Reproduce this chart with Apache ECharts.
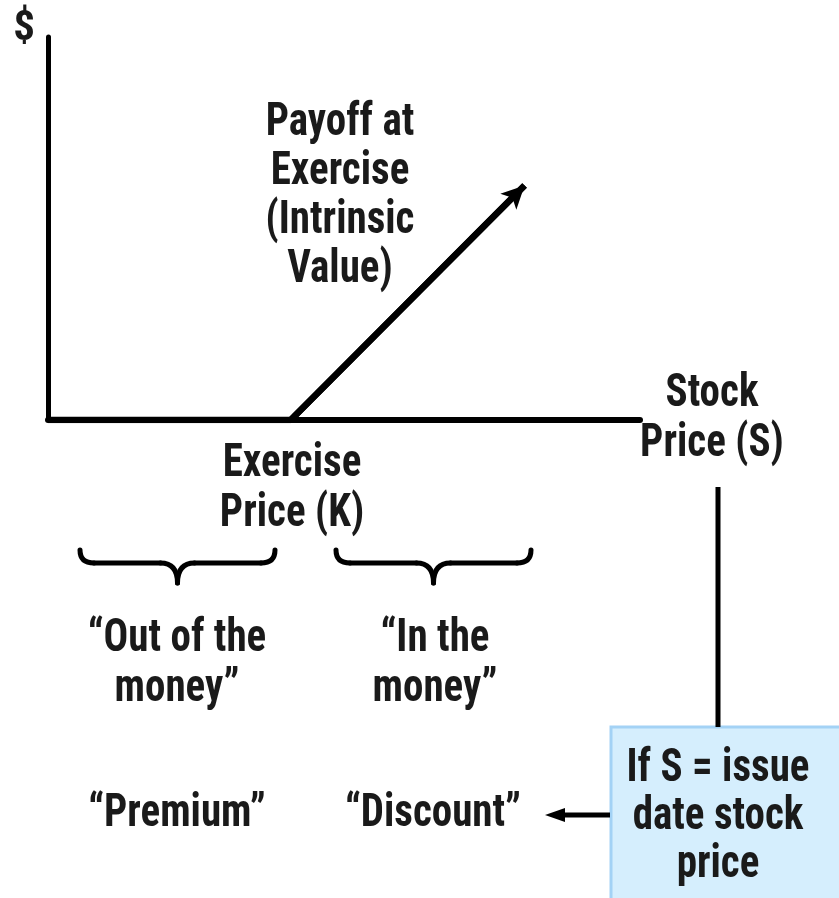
<!DOCTYPE html>
<html>
<head>
<meta charset="utf-8">
<script src="https://cdn.jsdelivr.net/npm/echarts@6/dist/echarts.min.js"></script>
<style>
html,body{margin:0;padding:0;background:#fff;}
#chart{width:839px;height:898px;}
</style>
</head>
<body>
<div id="chart"></div>
<script>
// Data (conceptual units): stock price S vs payoff at exercise
var stockPrice = [0, 41, 80.5];
var payoff = [0, 0, 39.8];
var xMax = 100, yMax = 65;

var FONT = '"Liberation Sans Narrow", "Arial Narrow", "Roboto Condensed", "Liberation Sans", sans-serif';
var TXT = '#1a1a1a';
var SY = 1.12;

var chart = echarts.init(document.getElementById('chart'), null, {renderer: 'canvas'});

function txt(text, x, y, lh) {
  lh = lh || 49;
  return {type: 'text', x: x, y: y, scaleY: SY, z: 100, style: {
    text: text, x: 0, y: 0,
    align: 'center', verticalAlign: 'middle',
    fontFamily: FONT, fontWeight: 'bold', fontSize: 41, lineHeight: lh / SY,
    fill: TXT
  }};
}

var BS = {stroke: '#000', lineWidth: 5, lineCap: 'round', fill: null};
function brace(x0, x1, yTop, yMid, yTip) {
  var cx = (x0 + x1) / 2;
  var r = 14, r2 = 17;
  return {type: 'group', children: [
    {type: 'bezierCurve', shape: {x1: x0, y1: yTop, cpx1: x0, cpy1: yMid, x2: x0 + r, y2: yMid}, style: BS, z: 50},
    {type: 'line', shape: {x1: x0 + r, y1: yMid, x2: cx - r2, y2: yMid}, style: BS, z: 50},
    {type: 'bezierCurve', shape: {x1: cx - r2, y1: yMid, cpx1: cx, cpy1: yMid, x2: cx, y2: yTip}, style: BS, z: 50},
    {type: 'bezierCurve', shape: {x1: cx, y1: yTip, cpx1: cx, cpy1: yMid, x2: cx + r2, y2: yMid}, style: BS, z: 50},
    {type: 'line', shape: {x1: cx + r2, y1: yMid, x2: x1 - r, y2: yMid}, style: BS, z: 50},
    {type: 'bezierCurve', shape: {x1: x1 - r, y1: yMid, cpx1: x1, cpy1: yMid, x2: x1, y2: yTop}, style: BS, z: 50}
  ]};
}

var seriesData = stockPrice.map(function (s, i) { return [s, payoff[i]]; });

var option = {
  animation: false,
  backgroundColor: '#fff',
  grid: {left: 48, top: 37, width: 592, height: 383, containLabel: false},
  xAxis: {
    type: 'value', min: 0, max: xMax,
    axisLine: {show: true, onZero: false, lineStyle: {color: '#000', width: 6}},
    axisTick: {show: false}, axisLabel: {show: false}, splitLine: {show: false}
  },
  yAxis: {
    type: 'value', min: 0, max: yMax,
    axisLine: {show: true, onZero: false, lineStyle: {color: '#000', width: 5}},
    axisTick: {show: false}, axisLabel: {show: false}, splitLine: {show: false},
    name: '$', nameLocation: 'end', nameGap: 8,
    nameTextStyle: {align: 'right', verticalAlign: 'middle', fontFamily: FONT, fontWeight: 'bold',
      fontSize: 43, color: TXT, padding: [0, 13, 0, 0]}
  },
  series: [{
    type: 'line',
    data: seriesData,
    symbol: 'none',
    lineStyle: {color: '#000', width: 6.5, cap: 'butt'},
    z: 10,
    markLine: {
      silent: true,
      symbol: ['none', 'arrow'],
      symbolSize: [17, 23],
      label: {show: false},
      lineStyle: {color: '#000', width: 6.5, type: 'solid'},
      data: [[{coord: seriesData[1]}, {coord: seriesData[2]}]]
    }
  }],
  graphic: [
    txt('Payoff at\nExercise\n(Intrinsic\nValue)', 340, 197),
    txt('Stock\nPrice (S)', 712, 420, 50),
    txt('Exercise\nPrice (K)', 292, 490, 50),
    brace(80, 275, 550, 563, 583),
    brace(336, 531, 550, 563, 583),
    txt('\u201cOut of the\nmoney\u201d', 177, 665, 50),
    txt('\u201cIn the\nmoney\u201d', 435, 665, 50),
    txt('\u201cPremium\u201d', 177, 815),
    txt('\u201cDiscount\u201d', 433, 815),
    {type: 'line', shape: {x1: 718, y1: 487, x2: 718, y2: 727},
      style: {stroke: '#000', lineWidth: 5}, z: 40},
    {type: 'rect', shape: {x: 611, y: 727, width: 240, height: 180},
      style: {fill: '#d5eefd', stroke: '#a3d2f5', lineWidth: 3}, z: 30},
    txt('If S = issue\ndate stock\nprice', 718, 818, 48),
    {type: 'line', shape: {x1: 610, y1: 815, x2: 560, y2: 815},
      style: {stroke: '#000', lineWidth: 5}, z: 40},
    {type: 'polygon', shape: {points: [[545, 815], [565, 808], [565, 822]]},
      style: {fill: '#000'}, z: 41}
  ]
};
chart.setOption(option);
</script>
</body>
</html>
